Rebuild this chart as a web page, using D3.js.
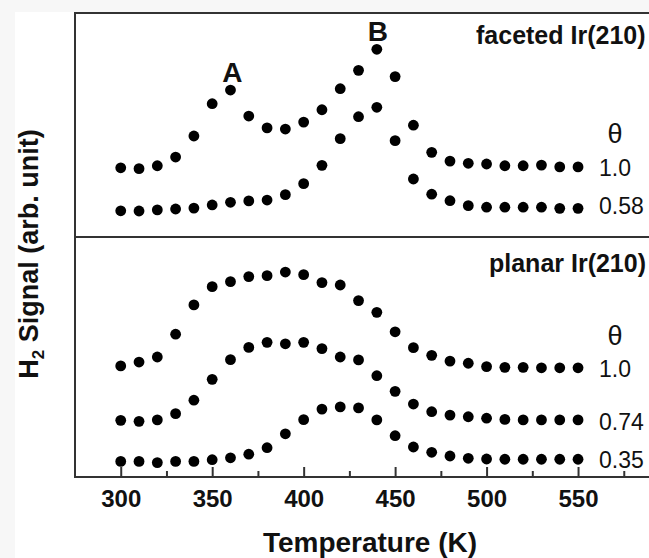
<!DOCTYPE html>
<html><head><meta charset="utf-8">
<script src="https://cdn.jsdelivr.net/npm/d3@7"></script>
<style>
html,body{margin:0;padding:0;background:#f7f7f7;}
svg{display:block;font-family:"Liberation Sans",Arial,Helvetica,sans-serif;}
</style></head>
<body>
<svg id="chart" width="649" height="558"></svg>
<script>
// Temperatures (K)
const temps = [300,310,320,330,340,350,360,370,380,390,400,410,420,430,440,450,460,470,480,490,500,510,520,530,540,550];

// faceted Ir(210), arbitrary units
const facetedTheta10 = [30.9,30.5,31.8,35.7,45.1,59.5,65.6,54.0,48.7,48.2,51.3,56.8,66.2,74.4,83.8,71.6,49.9,37.8,33.9,32.9,32.6,31.8,31.8,32.1,31.3,31.3];
const facetedTheta058 = [11.7,11.6,12.1,12.5,12.9,14.3,15.5,16.1,16.5,18.9,23.8,32.0,43.9,53.7,57.9,43.0,25.9,19.1,16.2,14.0,13.3,13.3,13.3,13.3,12.8,12.8];

// planar Ir(210), arbitrary units
const planarTheta10 = [46.3,47.9,50.0,59.5,71.7,79.3,81.4,83.5,83.9,85.4,84.3,81.0,80.0,73.5,68.6,60.5,53.9,50.7,48.3,47.4,46.0,45.7,45.7,45.5,45.5,45.5];
const planarTheta074 = [23.6,23.2,23.8,26.4,32.0,40.7,48.9,54.0,56.1,55.5,56.1,53.5,50.0,48.8,42.2,35.7,30.4,27.2,25.8,25.1,24.5,24.0,23.8,23.8,23.8,23.8];
const planarTheta035 = [6.5,6.5,6.0,6.5,6.5,7.2,8.0,9.5,12.2,18.0,23.9,28.3,29.2,28.8,23.8,17.2,12.5,10.3,8.75,7.8,7.5,7.4,7.4,7.4,7.4,7.4];

const majorTicks = [300,350,400,450,500,550];
const minorTicks = [325,375,425,475,525,575];
const panelNames = ["faceted Ir(210)", "planar Ir(210)"];
const facetedLabels = ["1.0","0.58"];
const planarLabels = ["1.0","0.74","0.35"];
const peakLabels = [{name:"A", T:360, series:0, dx:2}, {name:"B", T:440, series:0, dx:1}];

const svg = d3.select("#chart");
// white plotting sheet
svg.append("rect").attr("x",15).attr("y",12).attr("width",649-15).attr("height",558-12).attr("fill","#ffffff");

const pLeft = 75, pRight = 669.5, pTop = 13, pMid = 237, pBottom = 477;
const x = d3.scaleLinear().domain([275,600]).range([pLeft,pRight]);
const yTop = d3.scaleLinear().domain([0,100]).range([pMid,pTop]);
const yBot = d3.scaleLinear().domain([0,100]).range([pBottom,pMid]);

const ink = "#000";
const frameCol = "#333";

// dots
function drawSeries(vals, y){
  svg.append("g").selectAll("circle").data(vals).join("circle")
    .attr("cx",(d,i)=>x(temps[i])).attr("cy",d=>y(d)).attr("r",5.4).attr("fill",ink);
}
[facetedTheta10, facetedTheta058].forEach(s=>drawSeries(s,yTop));
[planarTheta10, planarTheta074, planarTheta035].forEach(s=>drawSeries(s,yBot));

// frame
svg.append("rect").attr("x",pLeft).attr("y",pTop).attr("width",pRight-pLeft).attr("height",pBottom-pTop)
  .attr("fill","none").attr("stroke",frameCol).attr("stroke-width",2);
svg.append("line").attr("x1",pLeft).attr("x2",pRight).attr("y1",pMid).attr("y2",pMid)
  .attr("stroke",frameCol).attr("stroke-width",2);

// axes (ticks inward)
const gMaj = svg.append("g").attr("transform",`translate(0,${pBottom})`)
  .call(d3.axisBottom(x).tickValues(majorTicks).tickSizeInner(-10).tickSizeOuter(0).tickPadding(20).tickFormat(d3.format("d")));
const gMin = svg.append("g").attr("transform",`translate(0,${pBottom})`)
  .call(d3.axisBottom(x).tickValues(minorTicks).tickSizeInner(-6).tickSizeOuter(0).tickFormat(""));
[gMaj,gMin].forEach(g=>{
  g.select(".domain").remove();
  g.selectAll(".tick line").attr("stroke",frameCol).attr("stroke-width",2);
});
gMaj.selectAll(".tick text").attr("font-size",24).attr("font-weight","bold").attr("fill","#111")
  .attr("dy",null).attr("y",30);

// axis titles
svg.append("text").attr("x",370).attr("y",552).attr("text-anchor","middle")
  .attr("font-size",28).attr("font-weight","bold").attr("fill","#111").text("Temperature (K)");
const yt = svg.append("text").attr("transform","translate(38,254) rotate(-90)").attr("text-anchor","middle")
  .attr("font-size",27).attr("font-weight","bold").attr("fill","#111");
yt.append("tspan").text("H");
yt.append("tspan").attr("font-size",17).attr("dy",6).text("2");
yt.append("tspan").attr("dy",-6).text(" Signal (arb. unit)");

// panel names
svg.append("text").attr("x",476).attr("y",44).attr("font-size",25).attr("font-weight","bold").attr("fill","#111").text(panelNames[0]);
svg.append("text").attr("x",489).attr("y",272).attr("font-size",25).attr("font-weight","bold").attr("fill","#111").text(panelNames[1]);

// peak labels
const facetedAll = [facetedTheta10, facetedTheta058];
peakLabels.forEach(p=>{
  const i = temps.indexOf(p.T);
  svg.append("text").attr("x",x(p.T)+p.dx).attr("y",yTop(facetedAll[p.series][i])-8)
    .attr("text-anchor","middle").attr("font-size",28).attr("font-weight","bold").attr("fill","#111").text(p.name);
});

// theta and coverage labels
const lx = 599;
svg.append("text").attr("x",615).attr("y",143).attr("text-anchor","middle").attr("font-size",27).attr("fill","#111").text("θ");
svg.append("text").attr("x",615).attr("y",345).attr("text-anchor","middle").attr("font-size",27).attr("fill","#111").text("θ");
const facetedBase = [176,214];
facetedLabels.forEach((t,k)=>svg.append("text").attr("x",lx).attr("y",facetedBase[k]).attr("font-size",23).attr("fill","#111").text(t));
const planarBase = [377,430,468];
planarLabels.forEach((t,k)=>svg.append("text").attr("x",lx).attr("y",planarBase[k]).attr("font-size",23).attr("fill","#111").text(t));
</script>
</body></html>
